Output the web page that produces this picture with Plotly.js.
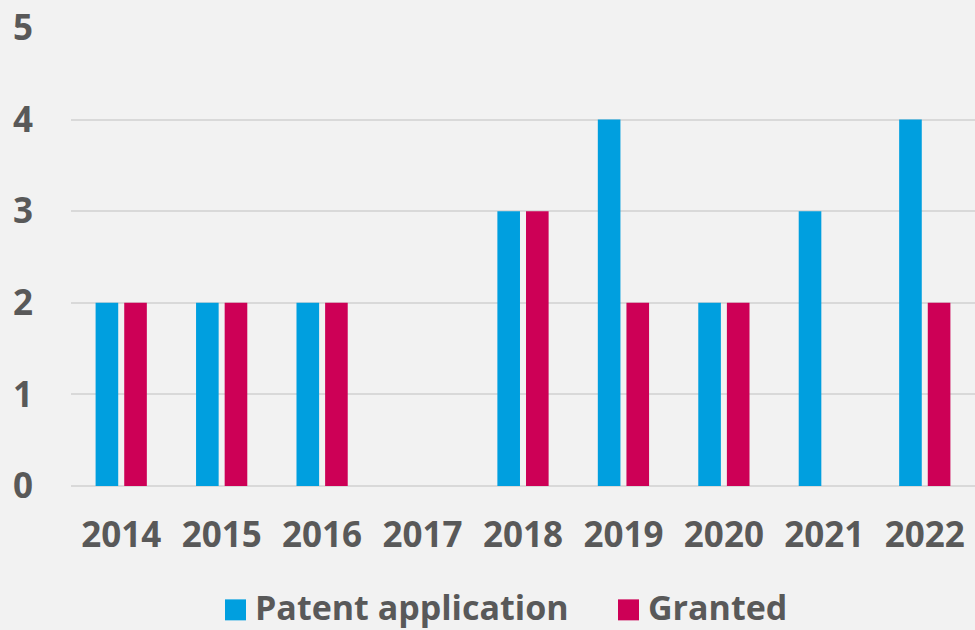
<!DOCTYPE html>
<html>
<head>
<meta charset="utf-8">
<script src="https://cdn.plot.ly/plotly-3.0.1.min.js"></script>
<style>
  html, body { margin: 0; padding: 0; background: #F2F2F2; }
  #chart { width: 975px; height: 630px; }
</style>
</head>
<body>
<div id="chart"></div>
<script>
// years on the x axis
var years = ['2014', '2015', '2016', '2017', '2018', '2019', '2020', '2021', '2022'];
// counts
var applications = [2, 2, 2, 0, 3, 4, 2, 3, 4];
var granted = [2, 2, 2, 0, 3, 2, 2, 0, 2];
var seriesNames = ['Patent application', 'Granted'];
var seriesColors = ['#009FDF', '#CD0056'];

var textColor = '#595959';
var fontFamily = '"Open Sans", "Noto Sans", sans-serif';

var trace1 = {
    x: years,
    y: applications,
    type: 'bar',
    name: seriesNames[0],
    marker: { color: seriesColors[0] },
    hoverinfo: 'x+y'
};

var trace2 = {
    x: years,
    y: granted,
    type: 'bar',
    name: seriesNames[1],
    marker: { color: seriesColors[1] },
    hoverinfo: 'x+y'
};

var data = [trace1, trace2];

// legend drawn by hand so the squares can be as big as in the picture
var plotLeft = 71, plotWidth = 904, plotBottom = 486.5, plotHeight = 458.5;
function px2x(p) { return (p - plotLeft) / plotWidth; }
function px2y(p) { return (plotBottom - p) / plotHeight; }

var shapes = [];
var annotations = [];
var legendItems = [
    { x0: 225, x1: 246, tx: 253 },
    { x0: 618, x1: 639, tx: 646 }
];
legendItems.forEach(function(it, i) {
    shapes.push({
        type: 'rect', xref: 'paper', yref: 'paper',
        x0: px2x(it.x0), x1: px2x(it.x1),
        y0: px2y(621), y1: px2y(600),
        fillcolor: seriesColors[i], line: { width: 0 }
    });
    annotations.push({
        xref: 'paper', yref: 'paper',
        x: px2x(it.tx), y: px2y(608),
        xanchor: 'left', yanchor: 'middle',
        text: seriesNames[i], showarrow: false,
        font: { family: fontFamily, size: 34, color: textColor, weight: 700 }
    });
});

var layout = {
    width: 975,
    height: 630,
    margin: { l: 71, r: 0, t: 28, b: 143.5 },
    paper_bgcolor: '#F2F2F2',
    plot_bgcolor: '#F2F2F2',
    barmode: 'group',
    bargap: 0.43,
    bargroupgap: 0.21,
    showlegend: false,
    font: { family: fontFamily, color: textColor },
    xaxis: {
        type: 'category',
        showgrid: false,
        showline: false,
        ticks: 'outside',
        ticklen: 18,
        tickcolor: 'rgba(0,0,0,0)',
        tickfont: { family: fontFamily, size: 35, color: textColor, weight: 700 },
        fixedrange: true
    },
    yaxis: {
        range: [0, 5],
        dtick: 1,
        showgrid: true,
        gridcolor: '#D9D9D9',
        gridwidth: 2,
        zeroline: true,
        zerolinecolor: '#D9D9D9',
        zerolinewidth: 2,
        showline: false,
        ticks: 'outside',
        ticklen: 30,
        tickcolor: 'rgba(0,0,0,0)',
        tickfont: { family: fontFamily, size: 35, color: textColor, weight: 700 },
        fixedrange: true
    },
    shapes: shapes,
    annotations: annotations
};

var config = { displayModeBar: false, staticPlot: true };

Plotly.newPlot('chart', data, layout, config);
</script>
</body>
</html>
